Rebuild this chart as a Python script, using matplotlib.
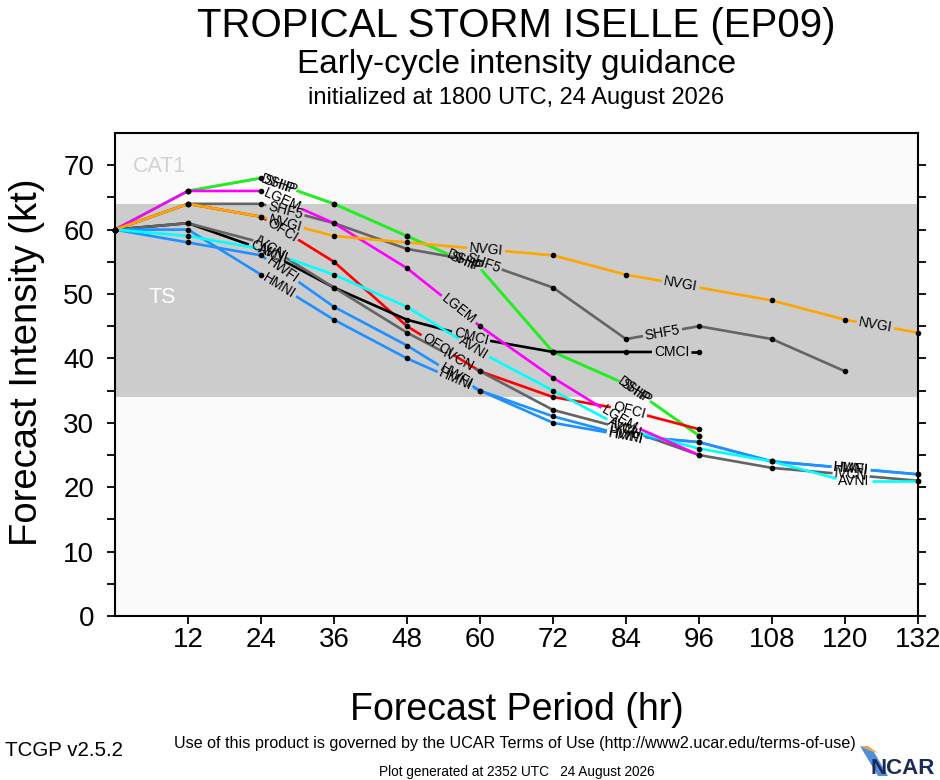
import numpy as np
import matplotlib
matplotlib.use('Agg')
import matplotlib.pyplot as plt
from matplotlib.patches import Polygon

plt.rcParams['font.family'] = ['Liberation Sans', 'DejaVu Sans']

# ---------------- data ----------------
hours = [0, 12, 24, 36, 48, 60, 72, 84, 96, 108, 120, 132]
DSHP = [60, 66, 68, 64, 59, 54, 41, 36, 28]
SHIP = [60, 66, 68, 64, 59, 54, 41, 36, 28]
LGEM = [60, 66, 66, 61, 54, 45, 37, 30, 25]
SHF5 = [60, 64, 64, 61, 57, 55, 51, 43, 45, 43, 38]
NVGI = [60, 64, 62, 59, 58, 57, 56, 53, 51, 49, 46, 44]
OFCI = [60, 64, 62, 55, 45, 38, 34, 32, 29]
IVCN = [60, 61, 58, 51, 44, 38, 32, 29, 25, 23, 22, 21]
AVNI = [60, 59, 57, 53, 48, 41, 35, 29, 26, 24, 21, 21]
CMCI = [60, 61, 57, 51, 46, 43, 41, 41, 41]
HWFI = [60, 58, 56, 48, 42, 35, 31, 28, 27, 24, 23, 22]
HMNI = [60, 60, 53, 46, 40, 35, 30, 28, 27, 24, 23, 22]
xtick_labels = ['12', '24', '36', '48', '60', '72', '84', '96', '108', '120', '132']
ytick_labels = ['0', '10', '20', '30', '40', '50', '60', '70']
ts_range = [34, 64]

series = {'DSHP': DSHP, 'SHIP': SHIP, 'OFCI': OFCI, 'CMCI': CMCI, 'IVCN': IVCN,
          'SHF5': SHF5, 'HWFI': HWFI, 'HMNI': HMNI, 'AVNI': AVNI, 'LGEM': LGEM,
          'NVGI': NVGI}

# ---------------- styles ----------------
colors = {'DSHP': '#22ee22', 'SHIP': '#22ee22', 'LGEM': '#ff00ff', 'SHF5': '#646464',
          'NVGI': '#ffa500', 'OFCI': '#ff0000', 'IVCN': '#646464', 'AVNI': '#00ffff',
          'CMCI': '#000000', 'HWFI': '#1e90ff', 'HMNI': '#1e90ff'}
label_at = {'DSHP': [27, 57.5, 85.5], 'SHIP': [27, 57.5, 85.5],
            'LGEM': [27.5, 56.5, 83], 'SHF5': [28, 60.5, 90],
            'NVGI': [28, 61, 93, 125], 'OFCI': [27.5, 53, 84.5],
            'IVCN': [25.5, 56.5, 84, 121], 'AVNI': [26, 59, 83.5, 121.5],
            'CMCI': [25, 58.5, 91.5], 'HWFI': [27.5, 56, 84, 121],
            'HMNI': [27, 56, 84, 121]}

W, H = 940, 780
fig = plt.figure(figsize=(W / 100, H / 100), dpi=100)
fig.patch.set_facecolor('white')
L, R, T, B = 115, 918, 133, 616
ax = fig.add_axes([L / W, 1 - B / H, (R - L) / W, (B - T) / H])
ax.set_xlim(0, 132)
ax.set_ylim(0, 75)
ax.set_facecolor('#fafafa')
ax.axhspan(ts_range[0], ts_range[1], color='#cccccc', zorder=0.5, lw=0)
ax.text(3, 69.8, 'CAT1', color='#d2d2d2', fontsize=15.5, ha='left', va='center', zorder=1)
ax.text(5.5, 49.4, 'TS', color='white', fontsize=15.5, ha='left', va='center', zorder=1)

renderer = fig.canvas.get_renderer()
inv = ax.transData.inverted()


def draw_model(name, vals, color, lab_hours, z):
    n = len(vals)
    x = np.array(hours[:n], float)
    y = np.array(vals, float)
    P = ax.transData.transform(np.column_stack([x, y]))
    d = np.diff(P, axis=0)
    seg = np.hypot(d[:, 0], d[:, 1])
    cum = np.concatenate([[0], np.cumsum(seg)])
    gaps = []
    for lh in lab_hours:
        i = int(min(max(np.searchsorted(x, lh) - 1, 0), n - 2))
        t = (lh - x[i]) / (x[i + 1] - x[i])
        s = cum[i] + t * seg[i]
        c = P[i] + t * d[i]
        ang = np.degrees(np.arctan2(d[i, 1], d[i, 0]))
        cx, cy = inv.transform(c)
        txt = ax.text(cx, cy, name, fontsize=10, ha='center', va='center', zorder=10)
        w = txt.get_window_extent(renderer).width
        txt.set_rotation(ang)
        txt.set_rotation_mode('anchor')
        gaps.append((s - w / 2 - 2, s + w / 2 + 2))
    vis = [(0.0, cum[-1])]
    for a, b in sorted(gaps):
        new = []
        for u, v in vis:
            if b <= u or a >= v:
                new.append((u, v))
                continue
            if a > u:
                new.append((u, a))
            if b < v:
                new.append((b, v))
        vis = new
    for u, v in vis:
        ss = np.concatenate([[u], cum[(cum > u) & (cum < v)], [v]])
        px = np.interp(ss, cum, P[:, 0])
        py = np.interp(ss, cum, P[:, 1])
        D = inv.transform(np.column_stack([px, py]))
        ax.plot(D[:, 0], D[:, 1], color=color, lw=1.9, solid_capstyle='butt', zorder=z)
    keep = [k for k in range(n) if not any(a < cum[k] < b for a, b in gaps)]
    ax.plot(x[keep], y[keep], 'o', color='black', ms=3, zorder=8, clip_on=False)


for k, name in enumerate(series):
    draw_model(name, series[name], colors[name], label_at[name], 2 + k * 0.1)

ax.set_xticks(hours[1:])
ax.set_xticklabels(xtick_labels)
ax.set_yticks(np.arange(0, 71, 10))
ax.set_yticklabels(ytick_labels)
ax.set_yticks(np.arange(5, 75, 10), minor=True)
ax.tick_params(axis='both', which='both', direction='out', length=6, width=1.3,
               labelsize=20)
ax.tick_params(axis='y', which='both', right=True, pad=9)
ax.tick_params(axis='x', pad=2)
for sp in ax.spines.values():
    sp.set_linewidth(1.5)

cx = (L + R) / 2 / W
fig.text(cx, 1 - 37 / H, 'TROPICAL STORM ISELLE (EP09)', fontsize=29, ha='center', va='baseline')
fig.text(cx, 1 - 73 / H, 'Early-cycle intensity guidance', fontsize=24, ha='center', va='baseline')
fig.text(cx, 1 - 104 / H, 'initialized at 1800 UTC, 24 August 2026', fontsize=17, ha='center', va='baseline')
fig.text(cx, 1 - 720 / H, 'Forecast Period (hr)', fontsize=27, ha='center', va='baseline')
fig.text(27 / W, 1 - 362 / H, 'Forecast Intensity (kt)', fontsize=27.5, ha='center', va='center', rotation=90)

fig.text(515 / W, 1 - 748 / H, 'Use of this product is governed by the UCAR Terms of Use (http://www2.ucar.edu/terms-of-use)',
         fontsize=11.6, ha='center', va='baseline')
fig.text(5 / W, 1 - 756 / H, 'TCGP v2.5.2', fontsize=14.8, ha='left', va='baseline')
fig.text(517 / W, 1 - 776 / H, 'Plot generated at 2352 UTC   24 August 2026', fontsize=9.8,
         ha='center', va='baseline')
# NCAR logo
fig.patches.append(Polygon([[860 / W, 1 - 746 / H], [874 / W, 1 - 752 / H], [888 / W, 1 - 776 / H],
                            [878 / W, 1 - 776 / H]], closed=True, transform=fig.transFigure,
                           facecolor='#4f8fd6', edgecolor='none'))
fig.patches.append(Polygon([[860 / W, 1 - 746 / H], [868 / W, 1 - 746 / H], [878 / W, 1 - 753 / H],
                            [874 / W, 1 - 752 / H]], closed=True, transform=fig.transFigure,
                           facecolor='#f0a040', edgecolor='none'))
fig.text(935 / W, 1 - 774 / H, 'NCAR', fontsize=16, ha='right', va='baseline',
         color='#1b2a5c', fontweight='bold')

fig.savefig('out.png', dpi=100)
